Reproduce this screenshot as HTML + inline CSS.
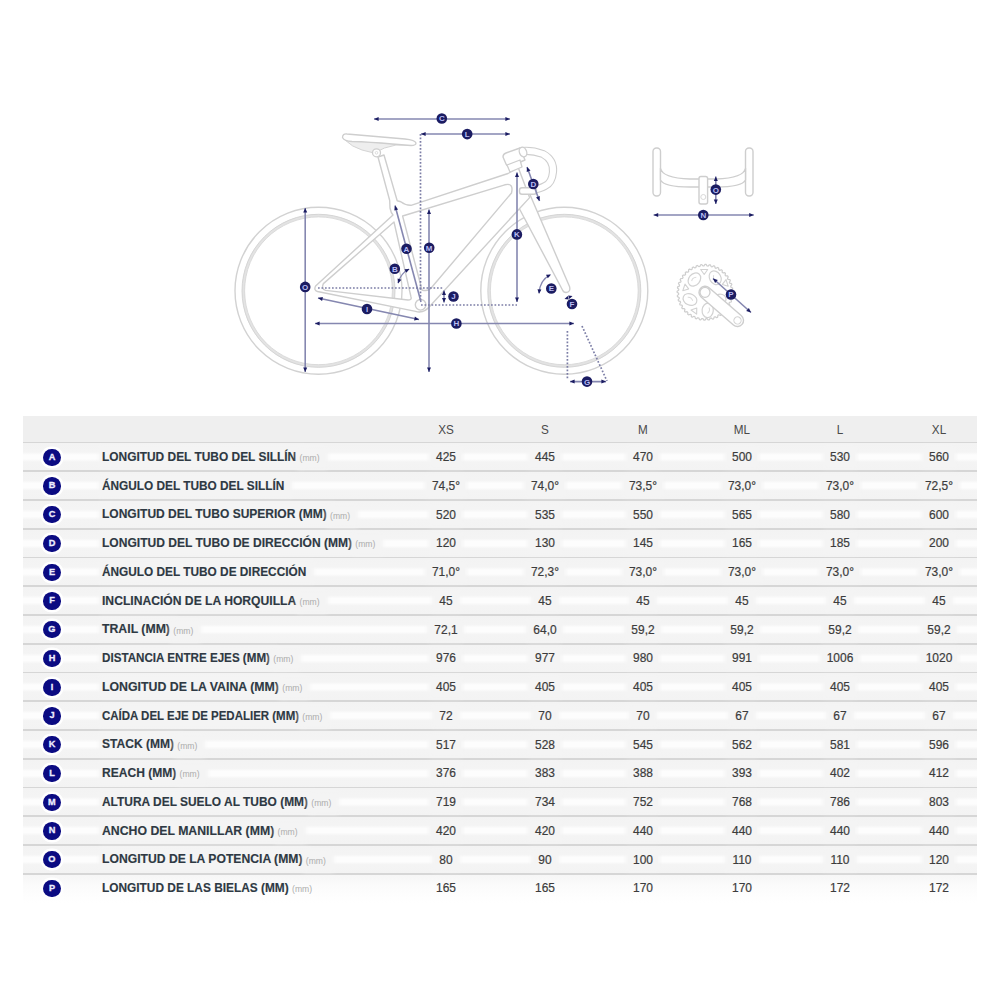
<!DOCTYPE html>
<html><head><meta charset="utf-8"><style>
*{margin:0;padding:0;box-sizing:border-box}
html,body{width:1000px;height:1000px;background:#fff;overflow:hidden}
body{position:relative;font-family:"Liberation Sans",sans-serif}
.hdr{position:absolute;left:23px;width:954px;top:416px;height:26px;background:#efefef}
.row{position:absolute;left:23px;width:954px;height:28.75px;background:linear-gradient(#f3f3f3 0,#f4f4f4 32%,#fdfdfd 43%,#fdfdfd 57%,#f4f4f4 68%,#f3f3f3 100%)}
.row.last{background:linear-gradient(#f6f6f6 0,#fbfbfb 40%,#fff 100%)}
.bd{position:absolute;left:23px;width:954px;height:1.9px;background:#d6d6d6}
.lab{position:absolute;left:102px;font-weight:bold;font-size:13px;color:#2e3943;-webkit-text-stroke:0.15px #2e3943;white-space:nowrap;transform:scaleX(.925);transform-origin:0 50%;line-height:16px}
.mm{position:absolute;font-size:8.6px;line-height:16px;color:#acacac;white-space:nowrap;transform:scaleX(1.0);transform-origin:0 50%;background:#f4f4f4;box-shadow:0 0 4px 3px #f4f4f4;padding-right:5px}
.val{position:absolute;font-size:13.5px;color:#3c3c3c;-webkit-text-stroke:0.22px #3c3c3c;white-space:nowrap;line-height:16px;transform:translateX(-50%) scaleX(.885);padding:0 5px;background:#f4f4f4;box-shadow:0 0 4px 3px #f4f4f4}
.hv{background:none;box-shadow:none;-webkit-text-stroke:0;color:#4a4a4a;font-size:13px;transform:translateX(-50%) scaleX(.9)}
.lab{background:#f4f4f4;box-shadow:0 0 4px 3px #f4f4f4;padding-right:6px}
.nb{background:none!important;box-shadow:none!important}
.circ{position:absolute;left:43.3px;width:17.3px;height:17.3px;border-radius:50%;background:#0b0b82;color:#eeeeff;font-weight:bold;font-size:9.2px;line-height:17.3px;-webkit-text-stroke:0.3px #eeeeff;text-align:center;box-shadow:0 0 0 2.5px #fff}
svg{position:absolute;left:0;top:0}
</style></head><body>
<svg width="1000" height="410" viewBox="0 0 1000 410"><g><circle cx="318.5" cy="290.8" r="83.5" stroke="#d2d2d2" stroke-width="1.4" fill="none"/><circle cx="318.5" cy="290.8" r="75.2" stroke="#e3e3e3" stroke-width="2.8" fill="none"/><circle cx="318.5" cy="290.8" r="76.5" stroke="#d3d3d3" stroke-width="0.9" fill="none"/><circle cx="318.5" cy="290.8" r="73.9" stroke="#d8d8d8" stroke-width="0.9" fill="none"/><circle cx="564.3" cy="290.8" r="83.5" stroke="#d2d2d2" stroke-width="1.4" fill="none"/><circle cx="564.3" cy="290.8" r="75.2" stroke="#e3e3e3" stroke-width="2.8" fill="none"/><circle cx="564.3" cy="290.8" r="76.5" stroke="#d3d3d3" stroke-width="0.9" fill="none"/><circle cx="564.3" cy="290.8" r="73.9" stroke="#d8d8d8" stroke-width="0.9" fill="none"/><path d="M512,200 L528,190 L569.5,286.5 Q571,292 566,292.5 Q563.5,292.5 562.5,290 L519,208 Z" fill="#fff" stroke="#cecece" stroke-width="1.4" stroke-linejoin="round"/><path d="M378,157 L389.7,200.5 L390,208 Q391,213 393,215 L315.6,286 Q313.5,290.5 317.5,291.5 L415.6,311.4 Q424,314 431,305 L529.6,197.6 L518.4,168 L508,173.5 L411,205.3 Q406,205.6 400.8,201.7 L397.2,200.8 L384,155 Z M402.6,216 L504.8,184.8 Q514,182.5 511.5,193 L432,287 Q428,292 422,290 Z M394,222 L411,297 Q412,300 408,300 L325.6,290.4 Q321,289 323.4,283.6 Z" fill="#fff" fill-rule="evenodd" stroke="#cecece" stroke-width="1.4" stroke-linejoin="round"/><circle cx="420.6" cy="304.8" r="5.3" fill="#fff" stroke="#cecece" stroke-width="1.4"/><path d="M345,140 Q352,147 362,150 L374,153 Q384,147 396,145 L410,145 Z" fill="#eeeeee" stroke="#d4d4d4" stroke-width="1"/><path d="M342.5,137.5 Q342.5,133.5 347,134 L405,139 Q415,140 416,143 Q416,145.5 411,145.5 L392,144 Q370,142 352,141.5 Q344,141 342.5,137.5 Z" fill="#fff" stroke="#cecece" stroke-width="1.3" stroke-linejoin="round"/><circle cx="376.5" cy="152.8" r="4" fill="#fff" stroke="#cecece" stroke-width="1.3"/><circle cx="376.5" cy="152.8" r="1.3" fill="none" stroke="#d5d5d5" stroke-width="0.8"/><path d="M522,151 Q532,150 543,154 Q554,160 553,172 Q552,183 545,186 Q540,189 532,190" fill="none" stroke="#cecece" stroke-width="8.2" stroke-linecap="round"/><path d="M522,151 Q532,150 543,154 Q554,160 553,172 Q552,183 545,186 Q540,189 532,190" fill="none" stroke="#fff" stroke-width="6" stroke-linecap="round"/><rect x="519.5" y="187.8" width="17" height="6.5" rx="2.5" fill="#fff" stroke="#cecece" stroke-width="1.4"/><path d="M503,157 Q503,154 506,153 L520,148 L525,160 L511,166 Q507,167 506,164 Z" fill="#fff" stroke="#cecece" stroke-width="1.4" stroke-linejoin="round"/><path d="M507,165 L520,160 L522,167 L510,172 Z" fill="#fff" stroke="#cecece" stroke-width="1.3" stroke-linejoin="round"/><ellipse cx="523" cy="152" rx="3.6" ry="5" transform="rotate(-20 523 152)" fill="#fff" stroke="#cecece" stroke-width="1.3"/><rect x="653" y="148" width="7.5" height="48" rx="3.5" fill="#fff" stroke="#cecece" stroke-width="1.4"/><rect x="745.5" y="148" width="7.5" height="48" rx="3.5" fill="#fff" stroke="#cecece" stroke-width="1.4"/><path d="M660.5,168 Q662,178 690,179 L716,179 Q744,178 745.5,168 L745.5,180 Q742,187 716,187 L690,187 Q664,187 660.5,180 Z" fill="#fff" stroke="#cecece" stroke-width="1.4"/><rect x="699" y="176.5" width="8.6" height="27.5" rx="2" fill="#fff" stroke="#cecece" stroke-width="1.4"/><circle cx="703.3" cy="197" r="2.5" fill="none" stroke="#d8d8d8" stroke-width="1"/><path d="M732.90,292.30 L732.88,293.40 L731.32,294.37 L731.22,295.40 L732.56,296.66 L732.36,297.74 L730.67,298.46 L730.41,299.47 L731.53,300.92 L731.18,301.96 L729.39,302.40 L728.97,303.35 L729.86,304.97 L729.34,305.93 L727.51,306.09 L726.95,306.97 L727.57,308.70 L726.91,309.57 L725.07,309.45 L724.39,310.22 L724.73,312.03 L723.94,312.79 L722.15,312.37 L721.34,313.03 L721.40,314.87 L720.50,315.50 L718.79,314.81 L717.90,315.33 L717.67,317.16 L716.68,317.64 L715.10,316.69 L714.14,317.07 L713.62,318.83 L712.57,319.15 L711.16,317.97 L710.15,318.19 L709.36,319.86 L708.28,320.01 L707.07,318.62 L706.04,318.68 L705.00,320.20 L703.90,320.18 L702.93,318.62 L701.90,318.52 L700.64,319.86 L699.56,319.66 L698.84,317.97 L697.83,317.71 L696.38,318.83 L695.34,318.48 L694.90,316.69 L693.95,316.27 L692.33,317.16 L691.37,316.64 L691.21,314.81 L690.33,314.25 L688.60,314.87 L687.73,314.21 L687.85,312.37 L687.08,311.69 L685.27,312.03 L684.51,311.24 L684.93,309.45 L684.27,308.64 L682.43,308.70 L681.80,307.80 L682.49,306.09 L681.97,305.20 L680.14,304.97 L679.66,303.98 L680.61,302.40 L680.23,301.44 L678.47,300.92 L678.15,299.87 L679.33,298.46 L679.11,297.45 L677.44,296.66 L677.29,295.58 L678.68,294.37 L678.62,293.34 L677.10,292.30 L677.12,291.20 L678.68,290.23 L678.78,289.20 L677.44,287.94 L677.64,286.86 L679.33,286.14 L679.59,285.13 L678.47,283.68 L678.82,282.64 L680.61,282.20 L681.03,281.25 L680.14,279.63 L680.66,278.67 L682.49,278.51 L683.05,277.63 L682.43,275.90 L683.09,275.03 L684.93,275.15 L685.61,274.38 L685.27,272.57 L686.06,271.81 L687.85,272.23 L688.66,271.57 L688.60,269.73 L689.50,269.10 L691.21,269.79 L692.10,269.27 L692.33,267.44 L693.32,266.96 L694.90,267.91 L695.86,267.53 L696.38,265.77 L697.43,265.45 L698.84,266.63 L699.85,266.41 L700.64,264.74 L701.72,264.59 L702.93,265.98 L703.96,265.92 L705.00,264.40 L706.10,264.42 L707.07,265.98 L708.10,266.08 L709.36,264.74 L710.44,264.94 L711.16,266.63 L712.17,266.89 L713.62,265.77 L714.66,266.12 L715.10,267.91 L716.05,268.33 L717.67,267.44 L718.63,267.96 L718.79,269.79 L719.67,270.35 L721.40,269.73 L722.27,270.39 L722.15,272.23 L722.92,272.91 L724.73,272.57 L725.49,273.36 L725.07,275.15 L725.73,275.96 L727.57,275.90 L728.20,276.80 L727.51,278.51 L728.03,279.40 L729.86,279.63 L730.34,280.62 L729.39,282.20 L729.77,283.16 L731.53,283.68 L731.85,284.73 L730.67,286.14 L730.89,287.15 L732.56,287.94 L732.71,289.02 L731.32,290.23 L731.38,291.26Z" fill="#fff" stroke="#cecece" stroke-width="1.2" stroke-linejoin="round"/><ellipse cx="694.4" cy="279.5" rx="7.2" ry="5.6" transform="rotate(-50 694.4 279.5)" fill="none" stroke="#d2d2d2" stroke-width="1.2"/><path d="M691.4,278.5 Q694.4,276.5 697.4,279.5" transform="rotate(-50 694.4 279.5)" fill="none" stroke="#dadada" stroke-width="1"/><ellipse cx="690.0" cy="299.5" rx="7.2" ry="5.6" transform="rotate(25 690.0 299.5)" fill="none" stroke="#d2d2d2" stroke-width="1.2"/><path d="M687.0,298.5 Q690.0,296.5 693.0,299.5" transform="rotate(25 690.0 299.5)" fill="none" stroke="#dadada" stroke-width="1"/><ellipse cx="707.7" cy="310.4" rx="7.2" ry="5.6" transform="rotate(95 707.7 310.4)" fill="none" stroke="#d2d2d2" stroke-width="1.2"/><path d="M704.7,309.4 Q707.7,307.4 710.7,310.4" transform="rotate(95 707.7 310.4)" fill="none" stroke="#dadada" stroke-width="1"/><ellipse cx="715.2" cy="277.8" rx="7.2" ry="5.6" transform="rotate(-120 715.2 277.8)" fill="none" stroke="#d2d2d2" stroke-width="1.2"/><path d="M712.2,276.8 Q715.2,274.8 718.2,277.8" transform="rotate(-120 715.2 277.8)" fill="none" stroke="#dadada" stroke-width="1"/><ellipse cx="719" cy="300" rx="7.2" ry="5.6" transform="rotate(160 719 300)" fill="none" stroke="#d2d2d2" stroke-width="1.2"/><path d="M716,299 Q719,297 722,300" transform="rotate(160 719 300)" fill="none" stroke="#dadada" stroke-width="1"/><path d="M700.7,269.5 L707.7,269.5 L704.2,274.5 Z" transform="rotate(0 704.2 271.5)" fill="none" stroke="#d2d2d2" stroke-width="1.1" stroke-linejoin="round"/><path d="M682.3,286 L689.3,286 L685.8,291 Z" transform="rotate(-72 685.8 288)" fill="none" stroke="#d2d2d2" stroke-width="1.1" stroke-linejoin="round"/><path d="M691.5,308.4 L698.5,308.4 L695,313.4 Z" transform="rotate(-144 695 310.4)" fill="none" stroke="#d2d2d2" stroke-width="1.1" stroke-linejoin="round"/><path d="M721.7,281.5 L728.7,281.5 L725.2,286.5 Z" transform="rotate(72 725.2 283.5)" fill="none" stroke="#d2d2d2" stroke-width="1.1" stroke-linejoin="round"/><g transform="translate(705.0,292.3) rotate(40.9)"><rect x="-6" y="-6.1" width="55.0" height="12.2" rx="6.1" fill="#fff" stroke="#cecece" stroke-width="1.4"/><circle cx="43.0" cy="0" r="3.6" fill="none" stroke="#d4d4d4" stroke-width="1.1"/></g><circle cx="705.0" cy="292.3" r="5" fill="#fff" stroke="#cecece" stroke-width="1.3"/></g><g><line x1="374" y1="119" x2="510" y2="119" stroke="#8587b0" stroke-width="1.6"/><path d="M374.0,119.0 L378.6,117.0 L378.6,121.0Z" fill="#1b1c62"/><path d="M510.0,119.0 L505.4,121.0 L505.4,117.0Z" fill="#1b1c62"/><line x1="421" y1="134" x2="510" y2="134" stroke="#8587b0" stroke-width="1.6"/><path d="M421.0,134.0 L425.6,132.0 L425.6,136.0Z" fill="#1b1c62"/><path d="M510.0,134.0 L505.4,136.0 L505.4,132.0Z" fill="#1b1c62"/><line x1="420.5" y1="134" x2="420.5" y2="300" stroke="#7c7ea6" stroke-width="1.7" stroke-dasharray="1.7 1.8"/><line x1="429" y1="209.5" x2="429" y2="372" stroke="#8587b0" stroke-width="1.6"/><path d="M429.0,209.5 L431.0,214.1 L427.0,214.1Z" fill="#1b1c62"/><path d="M429.0,372.0 L427.0,367.4 L431.0,367.4Z" fill="#1b1c62"/><line x1="395" y1="205.5" x2="421" y2="302" stroke="#8587b0" stroke-width="1.6"/><path d="M395.0,205.5 L398.1,209.4 L394.3,210.5Z" fill="#1b1c62"/><line x1="517" y1="172.5" x2="517" y2="302" stroke="#8587b0" stroke-width="1.6"/><path d="M517.0,172.5 L519.0,177.1 L515.0,177.1Z" fill="#1b1c62"/><path d="M517.0,302.0 L515.0,297.4 L519.0,297.4Z" fill="#1b1c62"/><line x1="305.2" y1="208" x2="305.2" y2="372" stroke="#8587b0" stroke-width="1.6"/><path d="M305.2,208.0 L307.2,212.6 L303.2,212.6Z" fill="#1b1c62"/><path d="M305.2,372.0 L303.2,367.4 L307.2,367.4Z" fill="#1b1c62"/><line x1="318" y1="298" x2="419" y2="319.5" stroke="#8587b0" stroke-width="1.6"/><path d="M318.0,298.0 L322.9,297.0 L322.1,300.9Z" fill="#1b1c62"/><path d="M419.0,319.5 L414.1,320.5 L414.9,316.6Z" fill="#1b1c62"/><line x1="315" y1="323.5" x2="574" y2="323.5" stroke="#8587b0" stroke-width="1.6"/><path d="M315.0,323.5 L319.6,321.5 L319.6,325.5Z" fill="#1b1c62"/><path d="M574.0,323.5 L569.4,325.5 L569.4,321.5Z" fill="#1b1c62"/><line x1="318" y1="288" x2="444" y2="288" stroke="#7c7ea6" stroke-width="1.7" stroke-dasharray="1.7 1.8"/><line x1="421" y1="305" x2="517" y2="305" stroke="#7c7ea6" stroke-width="1.7" stroke-dasharray="1.7 1.8"/><line x1="444" y1="290.5" x2="444" y2="302.5" stroke="#8587b0" stroke-width="1.6"/><path d="M444.0,290.5 L446.0,295.1 L442.0,295.1Z" fill="#1b1c62"/><path d="M444.0,302.5 L442.0,297.9 L446.0,297.9Z" fill="#1b1c62"/><line x1="527" y1="167" x2="539.5" y2="201" stroke="#8587b0" stroke-width="1.6"/><path d="M527.0,167.0 L530.5,170.6 L526.7,172.0Z" fill="#1b1c62"/><path d="M539.5,201.0 L536.0,197.4 L539.8,196.0Z" fill="#1b1c62"/><path d="M398,283 Q401,273 409,269" fill="none" stroke="#8587b0" stroke-width="1.3"/><path d="M398.0,283.5 L397.6,278.5 L401.4,279.8Z" fill="#1b1c62"/><path d="M409.5,269.0 L406.3,272.8 L404.5,269.3Z" fill="#1b1c62"/><path d="M539,293 Q540,280 550,275" fill="none" stroke="#8587b0" stroke-width="1.3"/><path d="M539.0,294.0 L537.5,289.2 L541.4,289.6Z" fill="#1b1c62"/><path d="M551.0,274.5 L547.8,278.3 L546.0,274.8Z" fill="#1b1c62"/><path d="M564.5,299.0 L567.7,295.9 L568.9,299.5Z" fill="#1b1c62"/><path d="M572.5,296.0 L569.3,299.1 L568.1,295.5Z" fill="#1b1c62"/><line x1="567.4" y1="331" x2="567.4" y2="380" stroke="#7c7ea6" stroke-width="1.7" stroke-dasharray="1.7 1.8"/><line x1="582" y1="326" x2="607" y2="381" stroke="#7c7ea6" stroke-width="1.7" stroke-dasharray="1.7 1.8"/><line x1="570" y1="381.6" x2="606" y2="381.6" stroke="#8587b0" stroke-width="1.6"/><path d="M570.0,381.6 L574.6,379.6 L574.6,383.6Z" fill="#1b1c62"/><path d="M606.0,381.6 L601.4,383.6 L601.4,379.6Z" fill="#1b1c62"/><line x1="653.6" y1="215" x2="753.8" y2="215" stroke="#8587b0" stroke-width="1.6"/><path d="M653.6,215.0 L658.2,213.0 L658.2,217.0Z" fill="#1b1c62"/><path d="M753.8,215.0 L749.2,217.0 L749.2,213.0Z" fill="#1b1c62"/><line x1="715.8" y1="176.5" x2="715.8" y2="204" stroke="#8587b0" stroke-width="1.6"/><path d="M715.8,176.5 L717.8,181.1 L713.8,181.1Z" fill="#1b1c62"/><path d="M715.8,204.0 L713.8,199.4 L717.8,199.4Z" fill="#1b1c62"/><line x1="713" y1="278.5" x2="751" y2="312.5" stroke="#8587b0" stroke-width="1.6"/><path d="M713.0,278.5 L717.8,280.1 L715.1,283.1Z" fill="#1b1c62"/><path d="M751.0,312.5 L746.2,310.9 L748.9,307.9Z" fill="#1b1c62"/></g><g><circle cx="441.8" cy="118.5" r="5.3" fill="#1b1c62"/><text x="441.8" y="121.4" font-family="Liberation Sans" font-weight="bold" font-size="8" fill="#b9bef5" text-anchor="middle">C</text><circle cx="467.2" cy="134.1" r="5.3" fill="#1b1c62"/><text x="467.2" y="137.0" font-family="Liberation Sans" font-weight="bold" font-size="8" fill="#b9bef5" text-anchor="middle">L</text><circle cx="406.5" cy="248.8" r="5.3" fill="#1b1c62"/><text x="406.5" y="251.70000000000002" font-family="Liberation Sans" font-weight="bold" font-size="8" fill="#b9bef5" text-anchor="middle">A</text><circle cx="429.2" cy="247.7" r="5.3" fill="#1b1c62"/><text x="429.2" y="250.6" font-family="Liberation Sans" font-weight="bold" font-size="8" fill="#b9bef5" text-anchor="middle">M</text><circle cx="394.8" cy="268.8" r="5.3" fill="#1b1c62"/><text x="394.8" y="271.7" font-family="Liberation Sans" font-weight="bold" font-size="8" fill="#b9bef5" text-anchor="middle">B</text><circle cx="516.9" cy="234.4" r="5.3" fill="#1b1c62"/><text x="516.9" y="237.3" font-family="Liberation Sans" font-weight="bold" font-size="8" fill="#b9bef5" text-anchor="middle">K</text><circle cx="305.2" cy="286.9" r="5.3" fill="#1b1c62"/><text x="305.2" y="289.79999999999995" font-family="Liberation Sans" font-weight="bold" font-size="8" fill="#b9bef5" text-anchor="middle">O</text><circle cx="367" cy="309" r="5.3" fill="#1b1c62"/><text x="367" y="311.9" font-family="Liberation Sans" font-weight="bold" font-size="8" fill="#b9bef5" text-anchor="middle">I</text><circle cx="456.4" cy="323.5" r="5.3" fill="#1b1c62"/><text x="456.4" y="326.4" font-family="Liberation Sans" font-weight="bold" font-size="8" fill="#b9bef5" text-anchor="middle">H</text><circle cx="453.5" cy="296.5" r="5.3" fill="#1b1c62"/><text x="453.5" y="299.4" font-family="Liberation Sans" font-weight="bold" font-size="8" fill="#b9bef5" text-anchor="middle">J</text><circle cx="533.3" cy="184" r="5.3" fill="#1b1c62"/><text x="533.3" y="186.9" font-family="Liberation Sans" font-weight="bold" font-size="8" fill="#b9bef5" text-anchor="middle">D</text><circle cx="551.3" cy="288.5" r="5.3" fill="#1b1c62"/><text x="551.3" y="291.4" font-family="Liberation Sans" font-weight="bold" font-size="8" fill="#b9bef5" text-anchor="middle">E</text><circle cx="572" cy="304" r="5.3" fill="#1b1c62"/><text x="572" y="306.9" font-family="Liberation Sans" font-weight="bold" font-size="8" fill="#b9bef5" text-anchor="middle">F</text><circle cx="587" cy="381.6" r="5.3" fill="#1b1c62"/><text x="587" y="384.5" font-family="Liberation Sans" font-weight="bold" font-size="8" fill="#b9bef5" text-anchor="middle">G</text><circle cx="703.3" cy="215" r="5.3" fill="#1b1c62"/><text x="703.3" y="217.9" font-family="Liberation Sans" font-weight="bold" font-size="8" fill="#b9bef5" text-anchor="middle">N</text><circle cx="715.8" cy="189.6" r="5.3" fill="#1b1c62"/><text x="715.8" y="192.5" font-family="Liberation Sans" font-weight="bold" font-size="8" fill="#b9bef5" text-anchor="middle">O</text><circle cx="731" cy="294.5" r="5.3" fill="#1b1c62"/><text x="731" y="297.4" font-family="Liberation Sans" font-weight="bold" font-size="8" fill="#b9bef5" text-anchor="middle">P</text></g></svg>
<div class="hdr"></div><div class="val hv" style="left:446.4px;top:422.4px">XS</div><div class="val hv" style="left:544.9px;top:422.4px">S</div><div class="val hv" style="left:643.3px;top:422.4px">M</div><div class="val hv" style="left:741.8px;top:422.4px">ML</div><div class="val hv" style="left:840.2px;top:422.4px">L</div><div class="val hv" style="left:938.7px;top:422.4px">XL</div><div class="row" style="top:442.50px"></div><div class="row" style="top:471.25px"></div><div class="row" style="top:500.00px"></div><div class="row" style="top:528.75px"></div><div class="row" style="top:557.50px"></div><div class="row" style="top:586.25px"></div><div class="row" style="top:615.00px"></div><div class="row" style="top:643.75px"></div><div class="row" style="top:672.50px"></div><div class="row" style="top:701.25px"></div><div class="row" style="top:730.00px"></div><div class="row" style="top:758.75px"></div><div class="row" style="top:787.50px"></div><div class="row" style="top:816.25px"></div><div class="row" style="top:845.00px"></div><div class="row last" style="top:873.75px"></div><div class="bd" style="top:441.55px"></div><div class="bd" style="top:470.30px"></div><div class="bd" style="top:499.05px"></div><div class="bd" style="top:527.80px"></div><div class="bd" style="top:556.55px"></div><div class="bd" style="top:585.30px"></div><div class="bd" style="top:614.05px"></div><div class="bd" style="top:642.80px"></div><div class="bd" style="top:671.55px"></div><div class="bd" style="top:700.30px"></div><div class="bd" style="top:729.05px"></div><div class="bd" style="top:757.80px"></div><div class="bd" style="top:786.55px"></div><div class="bd" style="top:815.30px"></div><div class="bd" style="top:844.05px"></div><div class="bd" style="top:872.80px"></div><div class="circ" style="top:448.53px">A</div><div class="lab" style="top:448.98px;transform:scaleX(0.9167)">LONGITUD DEL TUBO DEL SILLÍN</div><div class="mm" style="left:299.55px;top:450.18px">(mm)</div><div class="val" style="left:446.4px;top:449.07px">425</div><div class="val" style="left:544.9px;top:449.07px">445</div><div class="val" style="left:643.3px;top:449.07px">470</div><div class="val" style="left:741.8px;top:449.07px">500</div><div class="val" style="left:840.2px;top:449.07px">530</div><div class="val" style="left:938.7px;top:449.07px">560</div><div class="circ" style="top:477.28px">B</div><div class="lab" style="top:477.73px;transform:scaleX(0.9098)">ÁNGULO DEL TUBO DEL SILLÍN</div><div class="val" style="left:446.4px;top:477.82px">74,5°</div><div class="val" style="left:544.9px;top:477.82px">74,0°</div><div class="val" style="left:643.3px;top:477.82px">73,5°</div><div class="val" style="left:741.8px;top:477.82px">73,0°</div><div class="val" style="left:840.2px;top:477.82px">73,0°</div><div class="val" style="left:938.7px;top:477.82px">72,5°</div><div class="circ" style="top:506.03px">C</div><div class="lab" style="top:506.48px;transform:scaleX(0.9244)">LONGITUD DEL TUBO SUPERIOR (MM)</div><div class="mm" style="left:330.05px;top:507.68px">(mm)</div><div class="val" style="left:446.4px;top:506.57px">520</div><div class="val" style="left:544.9px;top:506.57px">535</div><div class="val" style="left:643.3px;top:506.57px">550</div><div class="val" style="left:741.8px;top:506.57px">565</div><div class="val" style="left:840.2px;top:506.57px">580</div><div class="val" style="left:938.7px;top:506.57px">600</div><div class="circ" style="top:534.77px">D</div><div class="lab" style="top:535.23px;transform:scaleX(0.9265)">LONGITUD DEL TUBO DE DIRECCIÓN (MM)</div><div class="mm" style="left:355.30px;top:536.42px">(mm)</div><div class="val" style="left:446.4px;top:535.33px">120</div><div class="val" style="left:544.9px;top:535.33px">130</div><div class="val" style="left:643.3px;top:535.33px">145</div><div class="val" style="left:741.8px;top:535.33px">165</div><div class="val" style="left:840.2px;top:535.33px">185</div><div class="val" style="left:938.7px;top:535.33px">200</div><div class="circ" style="top:563.52px">E</div><div class="lab" style="top:563.98px;transform:scaleX(0.9101)">ÁNGULO DEL TUBO DE DIRECCIÓN</div><div class="val" style="left:446.4px;top:564.08px">71,0°</div><div class="val" style="left:544.9px;top:564.08px">72,3°</div><div class="val" style="left:643.3px;top:564.08px">73,0°</div><div class="val" style="left:741.8px;top:564.08px">73,0°</div><div class="val" style="left:840.2px;top:564.08px">73,0°</div><div class="val" style="left:938.7px;top:564.08px">73,0°</div><div class="circ" style="top:592.27px">F</div><div class="lab" style="top:592.73px;transform:scaleX(0.9329)">INCLINACIÓN DE LA HORQUILLA</div><div class="mm" style="left:299.55px;top:593.92px">(mm)</div><div class="val" style="left:446.4px;top:592.83px">45</div><div class="val" style="left:544.9px;top:592.83px">45</div><div class="val" style="left:643.3px;top:592.83px">45</div><div class="val" style="left:741.8px;top:592.83px">45</div><div class="val" style="left:840.2px;top:592.83px">45</div><div class="val" style="left:938.7px;top:592.83px">45</div><div class="circ" style="top:621.02px">G</div><div class="lab" style="top:621.48px;transform:scaleX(0.9444)">TRAIL (MM)</div><div class="mm" style="left:173.30px;top:622.67px">(mm)</div><div class="val" style="left:446.4px;top:621.58px">72,1</div><div class="val" style="left:544.9px;top:621.58px">64,0</div><div class="val" style="left:643.3px;top:621.58px">59,2</div><div class="val" style="left:741.8px;top:621.58px">59,2</div><div class="val" style="left:840.2px;top:621.58px">59,2</div><div class="val" style="left:938.7px;top:621.58px">59,2</div><div class="circ" style="top:649.77px">H</div><div class="lab" style="top:650.23px;transform:scaleX(0.8946)">DISTANCIA ENTRE EJES (MM)</div><div class="mm" style="left:273.30px;top:651.42px">(mm)</div><div class="val" style="left:446.4px;top:650.33px">976</div><div class="val" style="left:544.9px;top:650.33px">977</div><div class="val" style="left:643.3px;top:650.33px">980</div><div class="val" style="left:741.8px;top:650.33px">991</div><div class="val" style="left:840.2px;top:650.33px">1006</div><div class="val" style="left:938.7px;top:650.33px">1020</div><div class="circ" style="top:678.52px">I</div><div class="lab" style="top:678.98px;transform:scaleX(0.9486)">LONGITUD DE LA VAINA (MM)</div><div class="mm" style="left:282.30px;top:680.17px">(mm)</div><div class="val" style="left:446.4px;top:679.08px">405</div><div class="val" style="left:544.9px;top:679.08px">405</div><div class="val" style="left:643.3px;top:679.08px">405</div><div class="val" style="left:741.8px;top:679.08px">405</div><div class="val" style="left:840.2px;top:679.08px">405</div><div class="val" style="left:938.7px;top:679.08px">405</div><div class="circ" style="top:707.27px">J</div><div class="lab" style="top:707.73px;transform:scaleX(0.8829)">CAÍDA DEL EJE DE PEDALIER (MM)</div><div class="mm" style="left:302.30px;top:708.92px">(mm)</div><div class="val" style="left:446.4px;top:707.83px">72</div><div class="val" style="left:544.9px;top:707.83px">70</div><div class="val" style="left:643.3px;top:707.83px">70</div><div class="val" style="left:741.8px;top:707.83px">67</div><div class="val" style="left:840.2px;top:707.83px">67</div><div class="val" style="left:938.7px;top:707.83px">67</div><div class="circ" style="top:736.02px">K</div><div class="lab" style="top:736.48px;transform:scaleX(0.9263)">STACK (MM)</div><div class="mm" style="left:177.30px;top:737.67px">(mm)</div><div class="val" style="left:446.4px;top:736.58px">517</div><div class="val" style="left:544.9px;top:736.58px">528</div><div class="val" style="left:643.3px;top:736.58px">545</div><div class="val" style="left:741.8px;top:736.58px">562</div><div class="val" style="left:840.2px;top:736.58px">581</div><div class="val" style="left:938.7px;top:736.58px">596</div><div class="circ" style="top:764.77px">L</div><div class="lab" style="top:765.23px;transform:scaleX(0.9269)">REACH (MM)</div><div class="mm" style="left:179.55px;top:766.42px">(mm)</div><div class="val" style="left:446.4px;top:765.33px">376</div><div class="val" style="left:544.9px;top:765.33px">383</div><div class="val" style="left:643.3px;top:765.33px">388</div><div class="val" style="left:741.8px;top:765.33px">393</div><div class="val" style="left:840.2px;top:765.33px">402</div><div class="val" style="left:938.7px;top:765.33px">412</div><div class="circ" style="top:793.52px">M</div><div class="lab" style="top:793.98px;transform:scaleX(0.9183)">ALTURA DEL SUELO AL TUBO (MM)</div><div class="mm" style="left:311.30px;top:795.17px">(mm)</div><div class="val" style="left:446.4px;top:794.08px">719</div><div class="val" style="left:544.9px;top:794.08px">734</div><div class="val" style="left:643.3px;top:794.08px">752</div><div class="val" style="left:741.8px;top:794.08px">768</div><div class="val" style="left:840.2px;top:794.08px">786</div><div class="val" style="left:938.7px;top:794.08px">803</div><div class="circ" style="top:822.27px">N</div><div class="lab" style="top:822.73px;transform:scaleX(0.9439)">ANCHO DEL MANILLAR (MM)</div><div class="mm" style="left:277.55px;top:823.92px">(mm)</div><div class="val" style="left:446.4px;top:822.83px">420</div><div class="val" style="left:544.9px;top:822.83px">420</div><div class="val" style="left:643.3px;top:822.83px">440</div><div class="val" style="left:741.8px;top:822.83px">440</div><div class="val" style="left:840.2px;top:822.83px">440</div><div class="val" style="left:938.7px;top:822.83px">440</div><div class="circ" style="top:851.02px">O</div><div class="lab" style="top:851.48px;transform:scaleX(0.9357)">LONGITUD DE LA POTENCIA (MM)</div><div class="mm" style="left:305.80px;top:852.67px">(mm)</div><div class="val" style="left:446.4px;top:851.58px">80</div><div class="val" style="left:544.9px;top:851.58px">90</div><div class="val" style="left:643.3px;top:851.58px">100</div><div class="val" style="left:741.8px;top:851.58px">110</div><div class="val" style="left:840.2px;top:851.58px">110</div><div class="val" style="left:938.7px;top:851.58px">120</div><div class="circ" style="top:879.77px">P</div><div class="lab nb" style="top:880.23px;transform:scaleX(0.9135)">LONGITUD DE LAS BIELAS (MM)</div><div class="mm nb" style="left:292.05px;top:881.42px">(mm)</div><div class="val nb" style="left:446.4px;top:880.33px">165</div><div class="val nb" style="left:544.9px;top:880.33px">165</div><div class="val nb" style="left:643.3px;top:880.33px">170</div><div class="val nb" style="left:741.8px;top:880.33px">170</div><div class="val nb" style="left:840.2px;top:880.33px">172</div><div class="val nb" style="left:938.7px;top:880.33px">172</div>
</body></html>
